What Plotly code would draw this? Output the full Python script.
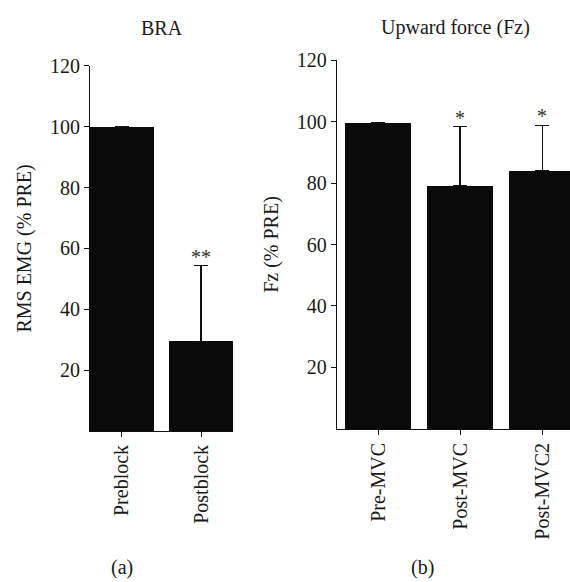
import plotly.graph_objects as go

# Panel (a): BRA
cats_a = ["Preblock", "Postblock"]
vals_a = [100, 29.5]
err_a = [0, 24.8]
sig_a = ["", "**"]

# Panel (b): Upward force (Fz)
cats_b = ["Pre-MVC", "Post-MVC", "Post-MVC2"]
vals_b = [99.5, 79, 84]
err_b = [0, 19.3, 14.8]
sig_b = ["", "*", "*"]

yticks = [20, 40, 60, 80, 100, 120]

FONT = "Liberation Serif"
BAR = "#0a0a0a"
TXT = "#1a1a1a"
W, H = 570, 582

fig = go.Figure()
fig.add_trace(go.Bar(
    x=cats_a, y=vals_a, width=0.806, marker=dict(color=BAR, line=dict(width=0)),
    error_y=dict(type="data", symmetric=False, array=err_a, arrayminus=[0] * len(err_a),
                 color="#111", thickness=1.2, width=7),
    xaxis="x", yaxis="y", showlegend=False, hoverinfo="skip"))
fig.add_trace(go.Bar(
    x=cats_b, y=vals_b, width=0.805, marker=dict(color=BAR, line=dict(width=0)),
    error_y=dict(type="data", symmetric=False, array=err_b, arrayminus=[0] * len(err_b),
                 color="#111", thickness=1.2, width=7),
    xaxis="x2", yaxis="y2", showlegend=False, hoverinfo="skip"))

annotations = []
for c, v, e, s in zip(cats_a, vals_a, err_a, sig_a):
    if s:
        annotations.append(dict(x=c, y=v + e, xref="x", yref="y", text=s, showarrow=False,
                                yanchor="bottom", yshift=-4, font=dict(family=FONT, size=20, color="#333")))
for c, v, e, s in zip(cats_b, vals_b, err_b, sig_b):
    if s:
        annotations.append(dict(x=c, y=v + e, xref="x2", yref="y2", text=s, showarrow=False,
                                yanchor="bottom", yshift=-4, font=dict(family=FONT, size=20, color="#333")))

# panel titles and labels
annotations += [
    dict(x=162 / W, y=1 - 17 / H, xref="paper", yref="paper", text="BRA", showarrow=False,
         font=dict(family=FONT, size=20, color=TXT), xanchor="center", yanchor="middle"),
    dict(x=455 / W, y=1 - 17 / H, xref="paper", yref="paper", text="Upward force (Fz)", showarrow=False,
         font=dict(family=FONT, size=20, color=TXT), xanchor="center", yanchor="middle"),
    dict(x=122 / W, y=1 - 567 / H, xref="paper", yref="paper", text="(a)", showarrow=False,
         font=dict(family=FONT, size=20, color=TXT), xanchor="center", yanchor="middle"),
    dict(x=422 / W, y=1 - 567 / H, xref="paper", yref="paper", text="(b)", showarrow=False,
         font=dict(family=FONT, size=20, color=TXT), xanchor="center", yanchor="middle"),
]

axis_common = dict(showline=True, linecolor="#111", linewidth=1, ticks="outside", ticklen=5,
                   tickcolor="#111", tickwidth=1, showgrid=False, zeroline=False,
                   tickfont=dict(family=FONT, size=20, color=TXT))

fig.update_layout(
    width=W, height=H, margin=dict(l=0, r=0, t=0, b=0),
    paper_bgcolor="white", plot_bgcolor="white",
    font=dict(family=FONT, size=20, color=TXT),
    xaxis=dict(domain=[90 / W, 233 / W], anchor="y", range=[-0.403, 1.403], tickangle=-90,
               **axis_common),
    yaxis=dict(domain=[1 - 428 / H, 1 - 56 / H], anchor="x", range=[0, 120], tickvals=yticks,
               title=dict(text="RMS EMG (% PRE)", font=dict(family=FONT, size=20, color=TXT), standoff=12),
               **axis_common),
    xaxis2=dict(domain=[336.7 / W, 1], anchor="y2", range=[-0.504, 2.34], tickangle=-90,
                **axis_common),
    yaxis2=dict(domain=[1 - 426 / H, 1 - 50 / H], anchor="x2", range=[0, 120], tickvals=yticks,
                title=dict(text="Fz (% PRE)", font=dict(family=FONT, size=20, color=TXT), standoff=12),
                **axis_common),
    annotations=annotations,
    bargap=0,
)

fig.write_html("out.html", config={"displayModeBar": False},
               post_script="document.body.style.margin='0';document.body.style.overflow='hidden';")
